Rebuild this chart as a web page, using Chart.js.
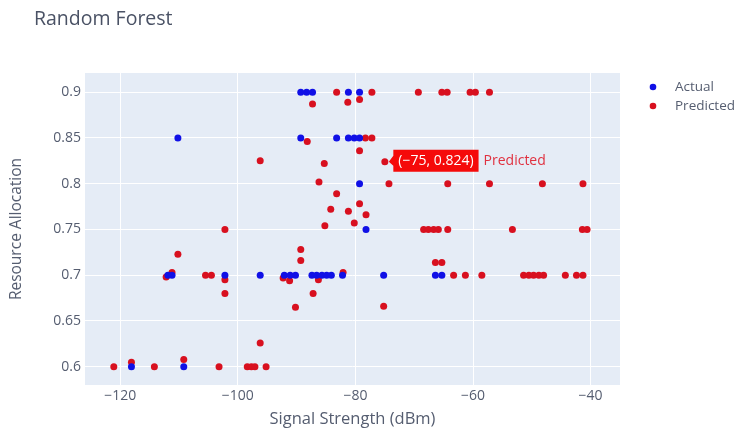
<!DOCTYPE html>
<html><head><meta charset="utf-8">
<script src="https://cdn.jsdelivr.net/npm/chart.js@4.4.0/dist/chart.umd.min.js"></script>
<style>html,body{margin:0;padding:0;background:#fff;} #wrap{width:741px;height:430px;position:relative;}</style>
</head><body><div id="wrap"><canvas id="c"></canvas></div>
<script>
const chartTitle = 'Random Forest';
const seriesNames = ['Actual', 'Predicted'];
const seriesColors = ['#1010e6', '#d8101f'];
const xAxisTitle = 'Signal Strength (dBm)';
const yAxisTitle = 'Resource Allocation';
const xTicks = [-120, -100, -80, -60, -40];
const yTicks = [0.6, 0.65, 0.7, 0.75, 0.8, 0.85, 0.9];
const xRange = [-126, -35];
const yRange = [0.58, 0.921];

const actualSignal = [-110.2,
  -89.3, -88.3, -87.3, -81.2, -79.3,
  -89.3, -83.2, -81.2, -80.2, -79.3,
  -79.3, -78.2,
  -111.9, -111.2, -102.2, -96.2, -92.1, -91.1, -90.2, -87.4, -86.6, -85.7, -84.9, -84.1, -82.2, -75.2, -66.4, -65.3,
  -118.1, -109.2];
const actualAlloc = [0.85,
  0.9, 0.9, 0.9, 0.9, 0.9,
  0.85, 0.85, 0.85, 0.85, 0.85,
  0.8, 0.75,
  0.7, 0.7, 0.7, 0.7, 0.7, 0.7, 0.7, 0.7, 0.7, 0.7, 0.7, 0.7, 0.7, 0.7, 0.7, 0.7,
  0.6, 0.6];

const predSignal = [-83.2, -77.2, -69.3, -65.3, -64.4, -60.5, -59.6, -57.2,
  -87.3, -81.3, -79.3,
  -88.2, -78.3, -77.2,
  -79.3,
  -96.2, -85.3, -75,
  -86.2, -74.3, -64.3, -57.2, -48.2, -41.3,
  -83.2,
  -79.3, -84.2, -81.2, -78.2,
  -80.2, -85.2,
  -102.2, -68.4, -67.6, -66.7, -65.9, -64.3, -53.3, -41.4, -40.6,
  -89.3, -110.2, -89.3, -66.4, -65.3,
  -112.2, -111.2, -105.5, -104.5, -102.2, -92.3, -91.2, -86.3, -82.1, -63.3, -61.3, -58.5, -51.4, -50.5, -49.7, -48.8, -48.0, -44.3, -42.4, -41.3,
  -102.2, -87.2,
  -90.2, -75.2,
  -96.2,
  -121.1, -118.1, -114.2, -109.2, -103.2, -98.4, -97.7, -97.1, -95.2];
const predAlloc = [0.9, 0.9, 0.9, 0.9, 0.9, 0.9, 0.9, 0.9,
  0.887, 0.889, 0.892,
  0.846, 0.85, 0.85,
  0.836,
  0.825, 0.822, 0.824,
  0.802, 0.8, 0.8, 0.8, 0.8, 0.8,
  0.789,
  0.778, 0.772, 0.770, 0.766,
  0.757, 0.754,
  0.75, 0.75, 0.75, 0.75, 0.75, 0.75, 0.75, 0.75, 0.75,
  0.728, 0.723, 0.716, 0.714, 0.714,
  0.698, 0.703, 0.7, 0.7, 0.695, 0.697, 0.694, 0.695, 0.703, 0.7, 0.7, 0.7, 0.7, 0.7, 0.7, 0.7, 0.7, 0.7, 0.7, 0.7,
  0.68, 0.68,
  0.665, 0.666,
  0.626,
  0.6, 0.605, 0.6, 0.608, 0.6, 0.6, 0.6, 0.6, 0.6];

const hoverPoint = [-75, 0.824];

const FONT = '"Open Sans", "Noto Sans", sans-serif';
const TEXT = '#555d70';

function fmtX(v) { return v < 0 ? '\u2212' + Math.abs(v) : String(v); }
function fmtY(v) { return String(+v.toFixed(2)); }

const toPts = (xs, ys) => xs.map((x, i) => ({ x: x, y: ys[i] }));

const bgPlugin = {
  id: 'bg',
  beforeDraw(chart) {
    const { ctx, chartArea: a } = chart;
    ctx.save();
    ctx.fillStyle = '#ffffff';
    ctx.fillRect(0, 0, chart.width, chart.height);
    ctx.fillStyle = '#e5ecf6';
    ctx.fillRect(a.left, a.top, a.right - a.left, a.bottom - a.top);
    ctx.restore();
  }
};

const overlayPlugin = {
  id: 'overlay',
  afterDraw(chart) {
    const ctx = chart.ctx;
    ctx.save();
    // title
    ctx.font = '19.5px ' + FONT;
    ctx.fillStyle = '#4a5265';
    ctx.textAlign = 'left';
    ctx.textBaseline = 'middle';
    ctx.fillText(chartTitle, 34, 19);
    // legend
    ctx.font = '13.5px ' + FONT;
    seriesNames.forEach((n, i) => {
      const y = 87 + i * 19;
      ctx.fillStyle = seriesColors[i];
      ctx.beginPath();
      ctx.arc(653, y, 3.3, 0, Math.PI * 2);
      ctx.fill();
      ctx.fillStyle = TEXT;
      ctx.fillText(n, 675, y);
    });
    // hover label
    ctx.font = '14px ' + FONT;
    const px = chart.scales.x.getPixelForValue(hoverPoint[0]);
    const py = chart.scales.y.getPixelForValue(hoverPoint[1]);
    const label = '(' + fmtX(hoverPoint[0]) + ', ' + hoverPoint[1] + ')';
    const tw = ctx.measureText(label).width;
    const bx = px + 8.5, bw = tw + 10, cy = py - 1, bh = 22;
    ctx.fillStyle = '#f50a0a';
    ctx.beginPath();
    ctx.moveTo(px + 4, py);
    ctx.lineTo(bx, cy - 5);
    ctx.lineTo(bx, cy - bh / 2);
    ctx.lineTo(bx + bw, cy - bh / 2);
    ctx.lineTo(bx + bw, cy + bh / 2);
    ctx.lineTo(bx, cy + bh / 2);
    ctx.lineTo(bx, cy + 5);
    ctx.closePath();
    ctx.fill();
    ctx.fillStyle = '#ffffff';
    ctx.fillText(label, bx + 5, cy + 0.5);
    ctx.fillStyle = '#e0303f';
    ctx.fillText(seriesNames[1], bx + bw + 5, cy + 0.5);
    ctx.restore();
  }
};

new Chart(document.getElementById('c'), {
  type: 'scatter',
  data: {
    datasets: [
      { label: seriesNames[0], data: toPts(actualSignal, actualAlloc), backgroundColor: seriesColors[0], borderWidth: 0, pointRadius: 3.5, pointHoverRadius: 3.5 },
      { label: seriesNames[1], data: toPts(predSignal, predAlloc), backgroundColor: seriesColors[1], borderWidth: 0, pointRadius: 3.5, pointHoverRadius: 3.5 }
    ]
  },
  options: {
    responsive: true,
    maintainAspectRatio: false,
    animation: false,
    events: [],
    layout: { padding: { top: 73, right: 121, left: 0, bottom: 0 } },
    plugins: { legend: { display: false }, title: { display: false }, tooltip: { enabled: false } },
    scales: {
      x: {
        type: 'linear', min: xRange[0], max: xRange[1],
        afterFit(s) { s.height = 45; },
        afterBuildTicks(s) { s.ticks = xTicks.map(v => ({ value: v })); },
        grid: { color: '#ffffff', lineWidth: 1, drawTicks: false },
        border: { display: false },
        ticks: { callback: v => fmtX(v), color: TEXT, font: { family: FONT, size: 14 }, padding: 3, maxRotation: 0 },
        title: { display: true, text: xAxisTitle, color: TEXT, font: { family: FONT, size: 16.5 }, padding: { top: 0, bottom: 1 } }
      },
      y: {
        type: 'linear', min: yRange[0], max: yRange[1],
        afterFit(s) { s.width = 85; },
        afterBuildTicks(s) { s.ticks = yTicks.map(v => ({ value: v })); },
        grid: { color: '#ffffff', lineWidth: 1, drawTicks: false },
        border: { display: false },
        ticks: { callback: v => fmtY(v), color: TEXT, font: { family: FONT, size: 14 }, padding: 4 },
        title: { display: true, text: yAxisTitle, color: TEXT, font: { family: FONT, size: 15.5 }, padding: { top: 7, bottom: 0 } }
      }
    }
  },
  plugins: [bgPlugin, overlayPlugin]
});
</script>
</body></html>
